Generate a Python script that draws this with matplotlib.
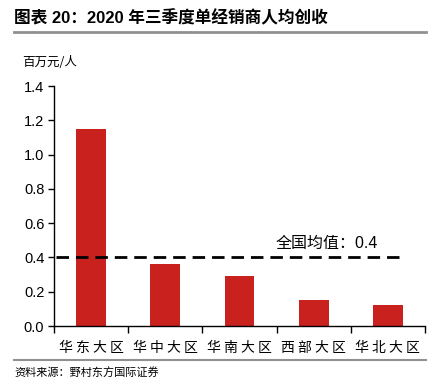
import matplotlib
matplotlib.use("Agg")
import matplotlib.pyplot as plt
from matplotlib.lines import Line2D

plt.rcParams['font.family'] = ['Noto Sans CJK SC', 'DejaVu Sans']
MIX = ['Liberation Sans', 'Noto Sans CJK SC', 'DejaVu Sans']

categories = ["华东大区", "华中大区", "华南大区", "西部大区", "华北大区"]
values = [1.15, 0.36, 0.29, 0.15, 0.12]
national_avg = 0.4
yticks = [0.0, 0.2, 0.4, 0.6, 0.8, 1.0, 1.2, 1.4]
title = "图表 20：2020 年三季度单经销商人均创收"
unit = "百万元/人"
source = "资料来源：野村东方国际证券"
avg_label = "全国均值：0.4"

W, H = 443, 382
fig = plt.figure(figsize=(W / 100, H / 100), dpi=100)
ax = fig.add_axes([54 / W, 1 - 326 / H, (425 - 54) / W, (326 - 86) / H])

x = list(range(len(categories)))
ax.bar(x, values, width=0.4, color="#C9211E", zorder=2)
ax.axhline(national_avg, xmin=0.005, xmax=0.93, color="black", lw=2,
           dashes=(4.5, 2.5), zorder=3)
ax.text(2.48, national_avg + 0.04, avg_label, fontsize=11.5, ha="left", va="bottom",
        family=MIX)

ax.set_xlim(-0.5, len(categories) - 0.5)
ax.set_ylim(0, 1.4)
ax.set_yticks(yticks)
ax.set_yticklabels([f"{t:.1f}" for t in yticks], fontsize=10.5, family="Liberation Sans")
ax.set_xticks(x)
ax.set_xticklabels([" ".join(c) for c in categories], fontsize=10)
ax.tick_params(axis="x", length=0, pad=11)
ax.set_xticks([i + 0.5 for i in range(-1, len(categories))], minor=True)
ax.tick_params(axis="x", which="minor", length=5, direction="out", width=1)
ax.tick_params(axis="y", length=4, direction="out", width=1, pad=3)
for s in ["top", "right"]:
    ax.spines[s].set_visible(False)
ax.spines["left"].set_linewidth(1)
ax.spines["bottom"].set_linewidth(1)

fig.text(14 / W, 1 - 18 / H, title, fontsize=12, fontweight="bold", ha="left", va="center",
         family=MIX)
fig.add_artist(Line2D([14 / W, 426 / W], [1 - 32 / H, 1 - 32 / H], color="#909090", lw=2,
                      transform=fig.transFigure))
fig.text(22 / W, 1 - 62 / H, unit, fontsize=9, ha="left", va="center")
fig.add_artist(Line2D([14 / W, 426 / W], [1 - 360 / H, 1 - 360 / H], color="#909090", lw=1.5,
                      transform=fig.transFigure))
fig.text(14 / W, 1 - 372 / H, source, fontsize=8, ha="left", va="center")

fig.savefig("out.png", dpi=100)
